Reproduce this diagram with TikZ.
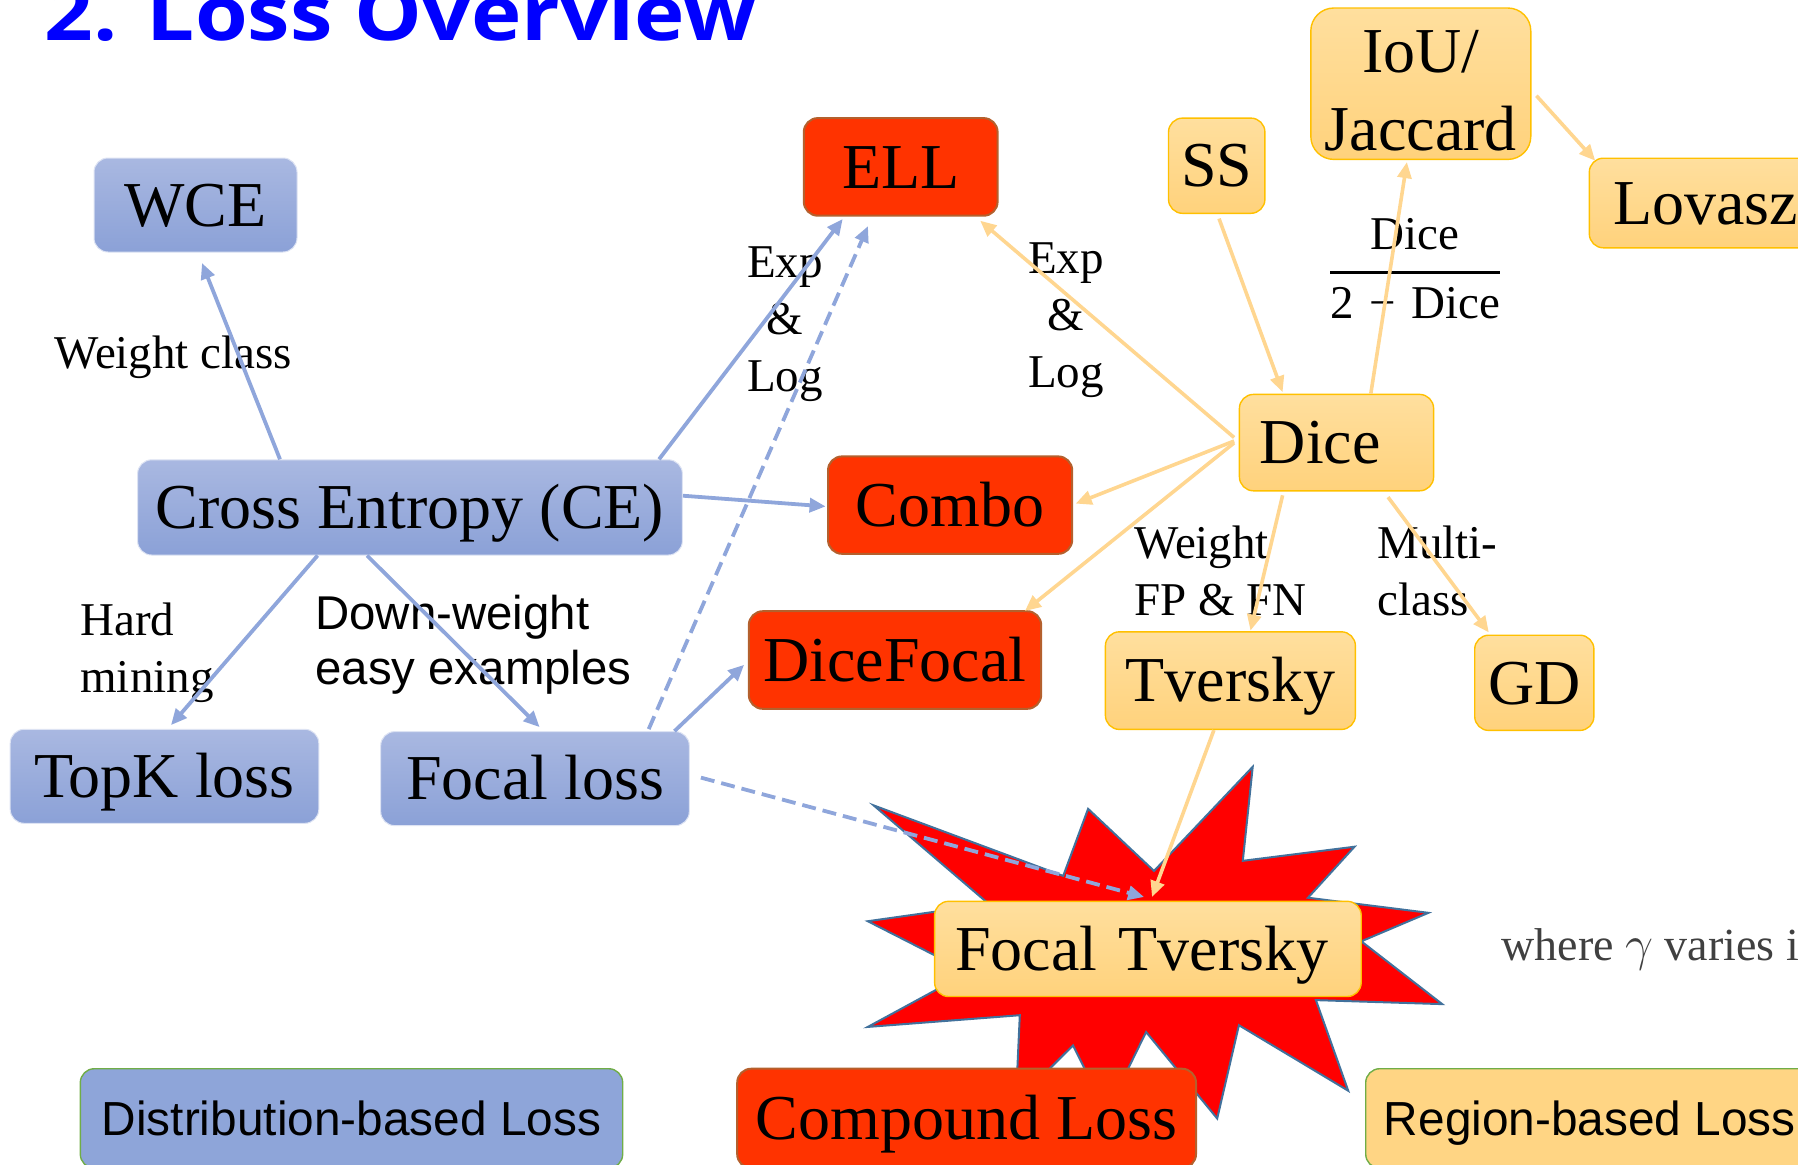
\documentclass[tikz,border=0pt]{standalone}
\usepackage{fontspec}
\usepackage{graphicx}
\usetikzlibrary{arrows.meta}
\setmainfont{Liberation Serif}
\setsansfont{Liberation Sans}
\newfontfamily\titlefont{Open Sans}

\definecolor{bluetop}{HTML}{A9B8E1}
\definecolor{bluebot}{HTML}{8BA1D7}
\definecolor{blueline}{HTML}{8FA6DB}
\definecolor{distfill}{HTML}{8EA5D9}
\definecolor{legendline}{HTML}{70AD47}
\definecolor{redfill}{HTML}{FF3300}
\definecolor{redline}{HTML}{B4602D}
\definecolor{ortop}{HTML}{FFDF9E}
\definecolor{orbot}{HTML}{FFD27C}
\definecolor{orline}{HTML}{FFC000}
\definecolor{orarrow}{HTML}{FFD690}
\definecolor{regfill}{HTML}{FFD584}
\definecolor{burst}{HTML}{FF0000}
\definecolor{burstline}{HTML}{41719C}
\definecolor{titleblue}{HTML}{0000FF}

\newcommand{\bigtxt}{\fontsize{32pt}{38pt}\selectfont}
\newcommand{\lbltxt}{\fontsize{23.5pt}{28.5pt}\selectfont}
\newcommand{\sanslbl}{\sffamily\fontsize{23.7pt}{27.8pt}\selectfont}
\newcommand{\legtxt}{\sffamily\fontsize{23.9pt}{28pt}\selectfont}
\newcommand{\topstrut}{\rule{0pt}{18pt}}

\tikzset{
  loss/.style={rounded corners=7pt, inner sep=0pt, font=\bigtxt,
    text height=21.2pt, text depth=0pt},
  bluebox/.style={loss, top color=bluetop, bottom color=bluebot,
    draw=white!60!bluetop, line width=0.5pt},
  redbox/.style={loss, fill=redfill, draw=redline, line width=1pt},
  orbox/.style={loss, top color=ortop, bottom color=orbot, draw=orline,
    line width=0.7pt},
  legend/.style={rounded corners=7pt, inner sep=0pt, font=\legtxt,
    text height=17.1pt, text depth=0pt, draw=legendline, line width=0.7pt},
  note/.style={inner sep=0pt, font=\lbltxt, align=left},
  blink/.style={draw=blueline, line width=1.9pt,
    -{Triangle[length=8pt,width=7pt]}},
  olink/.style={draw=orarrow, line width=1.8pt,
    -{Triangle[length=8pt,width=7pt]}},
  dlink/.style={blink, dash pattern=on 7pt off 3.5pt},
}

\begin{document}
\begin{tikzpicture}[x=0.5pt, y=-0.5pt]
\useasboundingbox (0,0) rectangle (1798,1164);
\clip (0,0) rectangle (1798,1164);

% title
\node[anchor=base west, inner sep=0pt, text=titleblue] (title) at (44,40.7)
  {\resizebox{356pt}{\height}{\titlefont\bfseries\fontsize{38pt}{44pt}\selectfont 2. Loss Overview}};

% explosion behind the focal Tversky box
\filldraw[fill=burst, draw=burstline, line width=1pt]
  (873.7,805.4) -- (1063.2,875.9) -- (1088.1,808.8) -- (1154,870.9)
  -- (1252.7,766.8) -- (1242.8,860.8) -- (1354.5,846.7) -- (1308,897.7)
  -- (1428.4,912.8) -- (1361.3,941.3) -- (1442.2,1004.1) -- (1315.9,1000.1)
  -- (1348.2,1090.7) -- (1238.9,1025.2) -- (1217.2,1118.5) -- (1146.1,1032)
  -- (1106.6,1112.5) -- (1073,1045.4) -- (1015.8,1102.4) -- (1019.8,1015.2)
  -- (867.8,1026.9) -- (945,985) -- (970,970) -- (940,958)
  -- (867.8,921.2) -- (940,911) -- (990,905) -- cycle;

% distribution-based losses
\node[bluebox, minimum width=101.5pt, minimum height=47pt] (wce) at (195.5,205) {WCE};
\node[bluebox, minimum width=272.4pt, minimum height=47.6pt] (ce) at (410,507.4) {Cross Entropy (CE)};
\node[bluebox, minimum width=154.3pt, minimum height=47pt] (topk) at (164.5,776.3) {TopK loss};
\node[bluebox, minimum width=154.3pt, minimum height=47pt] (focal) at (535,778.6) {Focal loss};

% compound losses
\node[redbox, minimum width=96.9pt, minimum height=48.8pt] (ell) at (900.7,166.9) {ELL};
\node[redbox, minimum width=122.1pt, minimum height=48.7pt] (combo) at (950.1,505.1) {Combo};
\node[redbox, minimum width=146.2pt, minimum height=48.8pt] (dicefocal) at (895,660) {DiceFocal};

% region-based losses
\node[orbox, minimum width=48.2pt, minimum height=47.6pt] (ss) at (1216.7,165.7) {SS};
\node[orbox, rounded corners=11.5pt, minimum width=110pt, minimum height=75.7pt,
  text height={}, text depth={}, align=center, font=\fontsize{32pt}{39pt}\selectfont]
  (iou) at (1420.8,83.7) {\rule{0pt}{27.8pt}IoU/\\Jaccard};
\node[orbox, minimum width=116.1pt, minimum height=44.8pt] (lovasz) at (1705.4,203) {Lovasz};
\node[orbox, minimum height=48.2pt, inner xsep=10.2pt, text width=76.7pt, align=left]
  (dice) at (1336.5,442.6) {Dice};
\node[orbox, minimum width=125pt, minimum height=48.8pt] (tversky) at (1230.4,680.6) {Tversky};
\node[orbox, minimum width=59.6pt, minimum height=47.6pt] (gd) at (1534.3,682.8) {GD};
\node[orbox, minimum height=47.6pt, inner xsep=10.2pt, text width=192.9pt, align=left]
  (ft) at (1147.9,948.9) {Focal Tversky};

% legend
\node[legend, fill=distfill, minimum width=271.2pt, minimum height=49.7pt] (dist) at (351.5,1118.4) {Distribution-based Loss};
\node[redbox, minimum width=229.4pt, minimum height=49.7pt] (compound) at (966.6,1118.4) {Compound Loss};
\node[legend, fill=regfill, minimum width=224.2pt, minimum height=49.7pt] (region) at (1589.9,1118.4) {Region-based Loss};

% edge labels
\node[note, anchor=base west] (wclass) at (54,368.5) {Weight class};
\node[note, anchor=north, align=center] (explogA) at (785,241) {\topstrut Exp\\\&\\Log};
\node[note, anchor=north, align=center] (explogB) at (1066,237) {\topstrut Exp\\\&\\Log};
\node[note, anchor=base] (ratio) at (1415,249)
  {\setlength\arrayrulewidth{1.35pt}\begin{tabular}[t]{@{}c@{}}Dice\\[2.6pt]\hline
   \rule{0pt}{22.1pt}2\hspace{0.33em}−\hspace{0.33em}Dice\end{tabular}};
\node[note, anchor=north west] (hard) at (80,599.5) {\topstrut Hard\\mining};
\node[note, anchor=north west, font=\sanslbl] (downw) at (315,592.6) {\topstrut Down-weight\\easy examples};
\node[note, anchor=north west] (wfpfn) at (1134,522.4) {\topstrut Weight\\FP \& FN};
\node[note, anchor=north west] (multi) at (1377,522.4) {\topstrut Multi-\\class};
\node[anchor=base west, inner sep=0pt, font=\fontsize{23pt}{27pt}\selectfont, text=black!75]
  (gammanote) at (1501,960) {where $\gamma$ varies i};

% connectors from the cross-entropy family
\draw[blink] ([xshift=-65pt]ce.north) -- ([xshift=3.25pt,yshift=-5.25pt]wce.south);
\draw[blink] ([xshift=124.5pt]ce.north) -- ([xshift=-29pt,yshift=-1.15pt]ell.south);
\draw[blink] ([yshift=5.85pt]ce.east) -- ([xshift=-0.7pt,yshift=-0.65pt]combo.west);
\draw[blink] ([xshift=-46.2pt]ce.south) -- ([xshift=3.25pt,yshift=1.85pt]topk.north);
\draw[blink] ([xshift=-21.5pt]ce.south) -- ([xshift=2.3pt,yshift=2pt]focal.north);
\draw[dlink] ([xshift=56.85pt,yshift=1pt]focal.north) -- ([xshift=-16.35pt,yshift=-4.7pt]ell.south);
\draw[blink] ([xshift=69.75pt]focal.north) -- ([xshift=-1.85pt,yshift=-2.4pt]dicefocal.west);
\draw[dlink] ([xshift=5.55pt,yshift=0.5pt]focal.east) -- ([xshift=-1.9pt,yshift=1.8pt]ft.north);

% connectors from the Dice family
\draw[olink] ([xshift=-2.3pt,yshift=2.55pt]dice.west) -- ([xshift=39.75pt,yshift=-2pt]ell.south);
\draw[olink] ([xshift=1.15pt,yshift=-2.3pt]ss.south) -- ([xshift=-26.95pt,yshift=0.8pt]dice.north);
\draw[olink] ([xshift=17.15pt]dice.north) -- ([xshift=-6.95pt,yshift=-1pt]iou.south);
\draw[olink] ([xshift=2.45pt,yshift=-6pt]iou.east) -- ([xshift=3.3pt,yshift=-1.6pt]lovasz.north west);
\draw[olink] ([xshift=-2.3pt,yshift=0.8pt]dice.west) -- ([xshift=1.25pt,yshift=0.75pt]combo.east);
\draw[olink] ([xshift=-2.3pt,yshift=-0.15pt]dice.west) -- ([xshift=64.95pt,yshift=-0.4pt]dicefocal.north);
\draw[olink] ([xshift=-26.95pt,yshift=-1.9pt]dice.south) -- ([xshift=10.05pt,yshift=0.25pt]tversky.north);
\draw[olink] ([xshift=25.75pt,yshift=-2.8pt]dice.south) -- ([xshift=-22.75pt,yshift=1.05pt]gd.north);
\draw[olink] ([xshift=-8.25pt]tversky.south) -- ([xshift=2.05pt,yshift=1.8pt]ft.north);
\end{tikzpicture}
\end{document}
